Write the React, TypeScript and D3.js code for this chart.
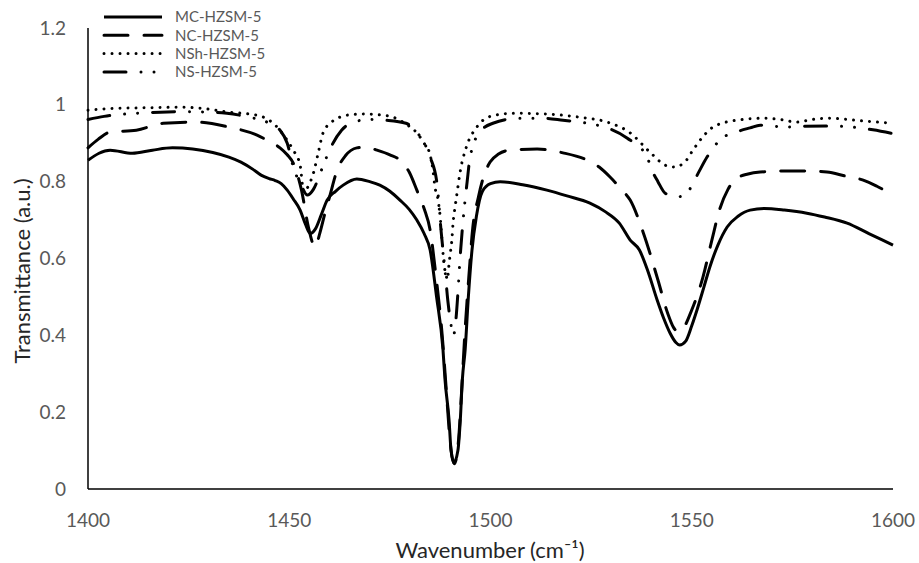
import * as d3 from "d3";
import React from "react";

// [wavenumber, transmittance]
const mcHzsm5: [number, number][] = [
  [1400, 0.856], [1405.5, 0.882], [1411, 0.874], [1416, 0.882], [1421, 0.888],
  [1426, 0.885], [1431, 0.876], [1435, 0.864], [1438, 0.851], [1441, 0.832],
  [1443, 0.817], [1445, 0.808], [1446.5, 0.803], [1448, 0.795], [1449.5, 0.778],
  [1451, 0.755], [1452.7, 0.726], [1454, 0.69], [1455.2, 0.665], [1456.5, 0.677],
  [1458, 0.715], [1459.4, 0.752], [1461.5, 0.775], [1463.4, 0.791], [1466.8, 0.807],
  [1470, 0.8], [1472.5, 0.791], [1475, 0.775], [1477.5, 0.752], [1479.8, 0.728],
  [1481.7, 0.7], [1483.5, 0.665], [1485, 0.622], [1486.6, 0.5], [1488.2, 0.362],
  [1488.7, 0.284], [1489.7, 0.18], [1490.2, 0.1], [1490.9, 0.068], [1491.9, 0.1],
  [1492.5, 0.18], [1493.0, 0.284], [1493.7, 0.362], [1494.5, 0.5], [1495.4, 0.622],
  [1496.5, 0.71], [1498, 0.775], [1500, 0.795], [1502.4, 0.8], [1508, 0.792],
  [1514, 0.778], [1519, 0.763], [1524.7, 0.744], [1528.5, 0.722], [1532, 0.692],
  [1534.7, 0.648], [1537, 0.622], [1539, 0.57], [1541.4, 0.492], [1543, 0.445],
  [1544.6, 0.406], [1546, 0.382], [1547, 0.375], [1548.5, 0.385], [1550, 0.425],
  [1551.3, 0.466], [1553, 0.525], [1554.5, 0.578], [1556.5, 0.635], [1558.8, 0.682],
  [1561.5, 0.71], [1564.5, 0.726], [1568, 0.73], [1573, 0.726], [1578.6, 0.718],
  [1583, 0.708], [1588.6, 0.692], [1594, 0.665], [1600, 0.635],
];

const ncHzsm5: [number, number][] = [
  [1400, 0.888], [1402.5, 0.91], [1405.5, 0.929], [1412, 0.934], [1418.7, 0.952],
  [1427, 0.955], [1435, 0.942], [1442, 0.921], [1445, 0.905], [1447.7, 0.888],
  [1449.5, 0.87], [1451, 0.848], [1453, 0.78], [1454.8, 0.68], [1456.4, 0.63],
  [1457.6, 0.666], [1458.8, 0.715], [1460, 0.76], [1461.9, 0.83], [1464, 0.868],
  [1466.8, 0.888], [1469, 0.89], [1471.8, 0.882], [1475, 0.87], [1477.5, 0.856],
  [1479.8, 0.825], [1481.7, 0.778], [1483.5, 0.73], [1485, 0.674], [1486.5, 0.55],
  [1488, 0.4], [1489, 0.26], [1490, 0.12], [1491.0, 0.066], [1492.0, 0.12],
  [1492.8, 0.25], [1493.6, 0.4], [1494.6, 0.55], [1495.6, 0.68], [1497, 0.76],
  [1498.5, 0.82], [1499.9, 0.851], [1502, 0.872], [1504.8, 0.882], [1511.6, 0.885],
  [1518, 0.875], [1524, 0.856], [1527, 0.838], [1529.7, 0.812], [1532.5, 0.78],
  [1534.7, 0.752], [1538, 0.666], [1541.6, 0.544], [1544, 0.458], [1545.5, 0.42],
  [1546.6, 0.409], [1548, 0.42], [1550, 0.466], [1552.8, 0.552], [1555, 0.648],
  [1557, 0.73], [1559, 0.78], [1561.2, 0.809], [1564, 0.82], [1567, 0.825],
  [1573.7, 0.828], [1578, 0.828], [1583.6, 0.825], [1588, 0.815], [1592.6, 0.804],
  [1596, 0.788], [1600, 0.765],
];

const nshHzsm5: [number, number][] = [
  [1400, 0.986], [1405, 0.99], [1412, 0.992], [1418, 0.993], [1423, 0.994],
  [1429, 0.99], [1435, 0.981], [1442, 0.973], [1445, 0.96], [1447, 0.942],
  [1449, 0.915], [1451, 0.882], [1452.7, 0.843], [1453.6, 0.772], [1454.8, 0.79],
  [1456, 0.822], [1457.2, 0.875], [1458.4, 0.927], [1460.5, 0.955], [1462.6, 0.968],
  [1466, 0.975], [1469.3, 0.976], [1472.5, 0.974], [1475.8, 0.968], [1479, 0.95],
  [1481.7, 0.927], [1483.5, 0.9], [1485, 0.87], [1485.7, 0.83], [1486.2, 0.786],
  [1487.0, 0.752], [1487.5, 0.708], [1488.0, 0.64], [1488.4, 0.59], [1489.0, 0.555],
  [1489.3, 0.545], [1489.6, 0.575], [1489.9, 0.604], [1490.4, 0.648], [1490.7, 0.692],
  [1491.2, 0.734], [1491.9, 0.786], [1492.4, 0.822], [1494, 0.89], [1496.6, 0.942],
  [1500, 0.97], [1505.6, 0.978], [1514, 0.976], [1522, 0.968], [1529, 0.955],
  [1534.7, 0.927], [1539.6, 0.877], [1543.4, 0.843], [1545.4, 0.838], [1548, 0.848],
  [1550.3, 0.882], [1553, 0.92], [1555.3, 0.942], [1561.2, 0.96], [1567.7, 0.965],
  [1572, 0.962], [1576, 0.955], [1580, 0.962], [1584, 0.965], [1592.6, 0.958],
  [1600, 0.952],
];

const nsHzsm5: [number, number][] = [
  [1400, 0.962], [1404, 0.97], [1412, 0.978], [1418, 0.981], [1425, 0.982],
  [1431, 0.981], [1434.5, 0.978], [1440, 0.968], [1444.5, 0.955], [1447.7, 0.934],
  [1449.5, 0.9], [1451, 0.838], [1453, 0.79], [1454.5, 0.765], [1456, 0.78],
  [1458, 0.83], [1460, 0.882], [1463, 0.934], [1466, 0.955], [1470, 0.962],
  [1474, 0.96], [1479, 0.952], [1482, 0.925], [1485, 0.864], [1486.7, 0.796],
  [1487.7, 0.674], [1488.7, 0.57], [1489.4, 0.49], [1490.2, 0.427], [1490.8, 0.4],
  [1491.4, 0.44], [1491.9, 0.51], [1492.4, 0.595], [1493.2, 0.7], [1494.2, 0.8],
  [1494.9, 0.862], [1497.4, 0.93], [1500.6, 0.952], [1507, 0.965], [1513, 0.965],
  [1518, 0.96], [1524, 0.952], [1529, 0.94], [1534, 0.913], [1538.9, 0.864],
  [1540.1, 0.83], [1541.6, 0.8], [1543.4, 0.77], [1546.3, 0.76], [1548.8, 0.77],
  [1550.3, 0.796], [1552, 0.83], [1553.8, 0.864], [1557.5, 0.913], [1561, 0.929],
  [1564.5, 0.94], [1567, 0.947], [1573.7, 0.942], [1577, 0.944], [1583.5, 0.945],
  [1590, 0.942], [1595, 0.935], [1600, 0.925],
];

const seriesNames = ["MC-HZSM-5", "NC-HZSM-5", "NSh-HZSM-5", "NS-HZSM-5"];
const xTicks = [1400, 1450, 1500, 1550, 1600];
const yTicks = [0, 0.2, 0.4, 0.6, 0.8, 1, 1.2];

const W = 919;
const H = 563;
const margin = { top: 28, right: 26, bottom: 74, left: 88 };
const font = "Lato, 'Open Sans', sans-serif";

const dashes = ["none", "24 16", "0.01 8", "22 15 0.01 13 0.01 15"];

export default function App() {
  const x = d3
    .scaleLinear()
    .domain([1400, 1600])
    .range([margin.left, W - margin.right]);
  const y = d3
    .scaleLinear()
    .domain([0, 1.2])
    .range([H - margin.bottom, margin.top]);

  const line = d3
    .line<[number, number]>()
    .x((d) => x(d[0]))
    .y((d) => y(d[1]))
    .curve(d3.curveMonotoneX);

  const data = [mcHzsm5, ncHzsm5, nshHzsm5, nsHzsm5];

  return (
    <svg width={W} height={H} style={{ display: "block", background: "#fff" }}>
      <style>{`body{margin:0}`}</style>
      <rect width={W} height={H} fill="#fff" />

      {data.map((d, i) => (
        <path
          key={seriesNames[i]}
          d={line(d) || ""}
          fill="none"
          stroke="#000"
          strokeWidth={3}
          strokeDasharray={dashes[i]}
          strokeLinecap={i === 0 ? "butt" : "round"}
          strokeLinejoin="round"
        />
      ))}

      {/* axes */}
      <line x1={x(1400)} x2={x(1400)} y1={y(1.2)} y2={y(0)} stroke="#000" strokeWidth={1.5} />
      <line x1={x(1400)} x2={x(1600)} y1={y(0)} y2={y(0)} stroke="#000" strokeWidth={1.5} />

      {yTicks.map((t) => (
        <text
          key={t}
          x={66}
          y={y(t)}
          dy="0.35em"
          textAnchor="end"
          fontFamily={font}
          fontSize={19}
          fill="#595959"
        >
          {String(t)}
        </text>
      ))}
      {xTicks.map((t) => (
        <text
          key={t}
          x={x(t)}
          y={527}
          textAnchor="middle"
          fontFamily={font}
          fontSize={19}
          fill="#595959"
        >
          {t}
        </text>
      ))}

      <text
        x={490}
        y={558}
        textAnchor="middle"
        fontFamily={font}
        fontSize={22}
        fill="#262626"
      >
        Wavenumber (cm⁻¹)
      </text>
      <text
        transform="translate(30,271) rotate(-90)"
        textAnchor="middle"
        fontFamily={font}
        fontSize={22}
        fill="#262626"
      >
        Transmittance (a.u.)
      </text>

      {/* legend */}
      {seriesNames.map((name, i) => {
        const ly = 17 + i * 18.3;
        return (
          <g key={name}>
            <line
              x1={104}
              x2={162}
              y1={ly}
              y2={ly}
              stroke="#000"
              strokeWidth={3}
              strokeDasharray={dashes[i]}
              strokeLinecap={i === 0 ? "butt" : "round"}
            />
            <text
              x={175}
              y={ly}
              dy="0.35em"
              fontFamily={font}
              fontSize={15}
              fill="#595959"
            >
              {name}
            </text>
          </g>
        );
      })}
    </svg>
  );
}
